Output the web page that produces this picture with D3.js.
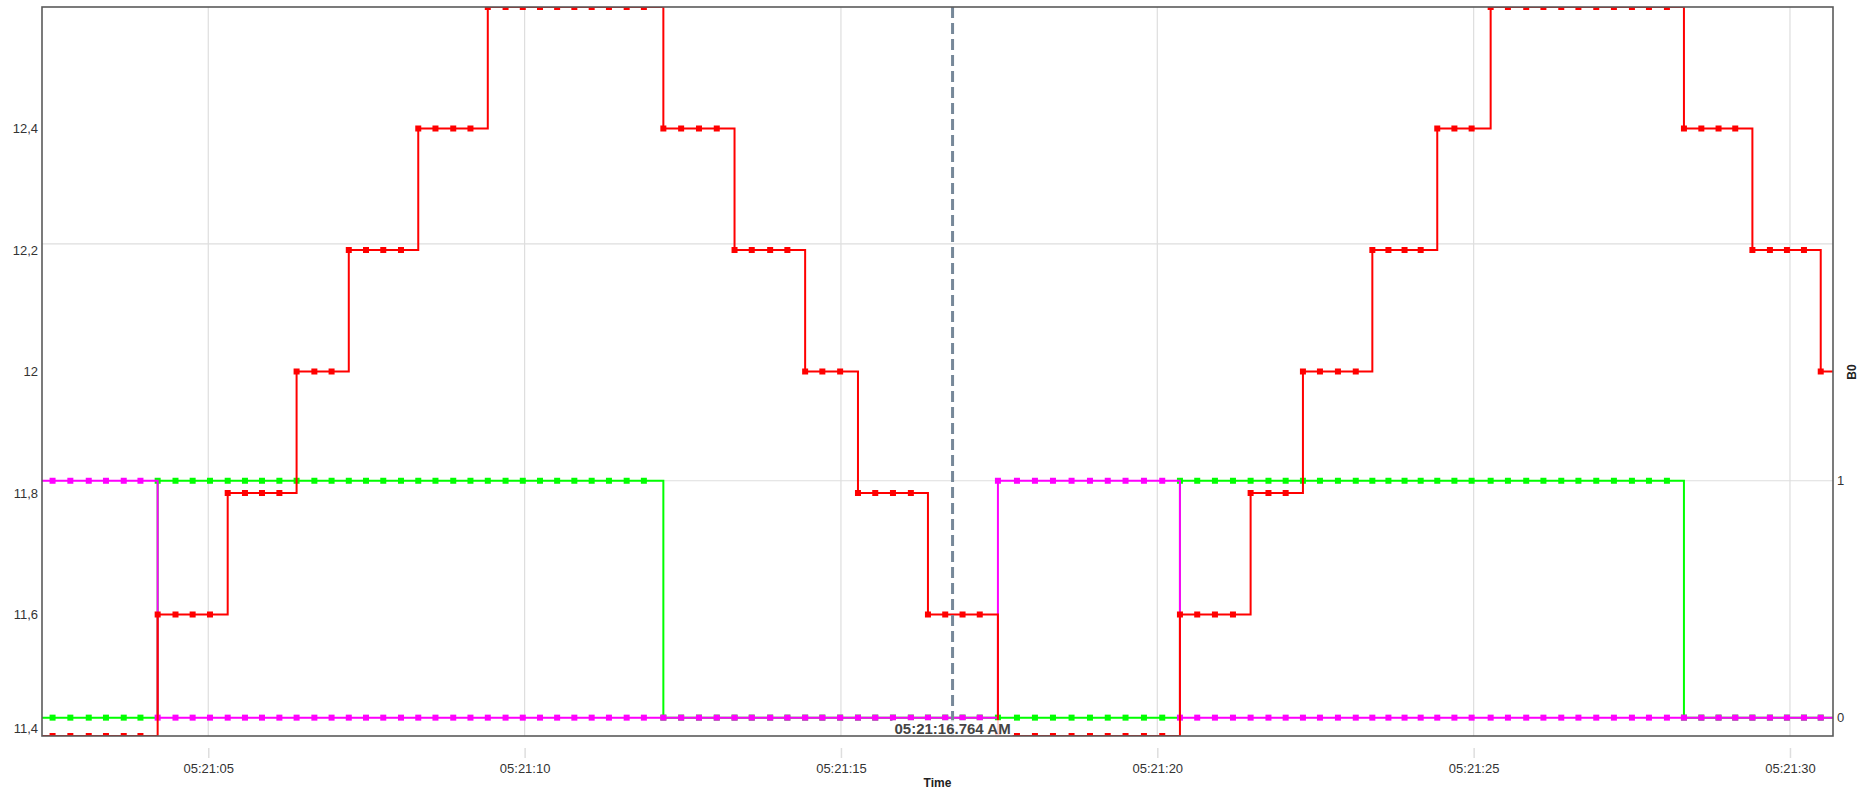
<!DOCTYPE html>
<html>
<head>
<meta charset="UTF-8">
<title>B0</title>
<script src="https://cdn.jsdelivr.net/npm/d3@7"></script>
<style>
body { margin: 0; background: #fff; }
text { font-family: "Liberation Sans", Arial, sans-serif; }
</style>
</head>
<body>
<script>
// sample times, seconds after 05:21:00
var times = [2.26, 2.539, 2.820, 3.111, 3.383, 3.664, 3.928, 4.200, 4.482, 4.753,
    5.027, 5.307, 5.580, 5.849, 6.124, 6.396, 6.677, 6.949, 7.221, 7.493,
    7.766, 8.046, 8.319, 8.591, 8.872, 9.144, 9.418, 9.699, 9.971, 10.243,
    10.514, 10.786, 11.060, 11.333, 11.613, 11.885, 12.193, 12.474, 12.756, 13.037,
    13.318, 13.590, 13.881, 14.153, 14.434, 14.706, 14.987, 15.269, 15.542, 15.822,
    16.105, 16.375, 16.648, 16.922, 17.194, 17.481, 17.782, 18.066, 18.351, 18.645,
    18.936, 19.217, 19.498, 19.789, 20.078, 20.358, 20.631, 20.911, 21.196, 21.475,
    21.757, 22.029, 22.302, 22.571, 22.855, 23.137, 23.399, 23.653, 23.908, 24.163,
    24.425, 24.696, 24.968, 25.269, 25.542, 25.831, 26.103, 26.385, 26.656, 26.938,
    27.217, 27.502, 27.771, 28.055, 28.324, 28.599, 28.871, 29.135, 29.406, 29.683,
    29.952, 30.221, 30.486, 30.76];

var red_values = [11.4, 11.4, 11.4, 11.4, 11.4, 11.4, 11.4, 11.6, 11.6, 11.6,
    11.6, 11.8, 11.8, 11.8, 11.8, 12, 12, 12, 12.2, 12.2,
    12.2, 12.2, 12.4, 12.4, 12.4, 12.4, 12.6, 12.6, 12.6, 12.6,
    12.6, 12.6, 12.6, 12.6, 12.6, 12.6, 12.4, 12.4, 12.4, 12.4,
    12.2, 12.2, 12.2, 12.2, 12, 12, 12, 11.8, 11.8, 11.8,
    11.8, 11.6, 11.6, 11.6, 11.6, 11.4, 11.4, 11.4, 11.4, 11.4,
    11.4, 11.4, 11.4, 11.4, 11.4, 11.6, 11.6, 11.6, 11.6, 11.8,
    11.8, 11.8, 12, 12, 12, 12, 12.2, 12.2, 12.2, 12.2,
    12.4, 12.4, 12.4, 12.6, 12.6, 12.6, 12.6, 12.6, 12.6, 12.6,
    12.6, 12.6, 12.6, 12.6, 12.4, 12.4, 12.4, 12.4, 12.2, 12.2,
    12.2, 12.2, 12, 12];

var green_values = [0, 0, 0, 0, 0, 0, 0, 1, 1, 1,
    1, 1, 1, 1, 1, 1, 1, 1, 1, 1,
    1, 1, 1, 1, 1, 1, 1, 1, 1, 1,
    1, 1, 1, 1, 1, 1, 0, 0, 0, 0,
    0, 0, 0, 0, 0, 0, 0, 0, 0, 0,
    0, 0, 0, 0, 0, 0, 0, 0, 0, 0,
    0, 0, 0, 0, 0, 1, 1, 1, 1, 1,
    1, 1, 1, 1, 1, 1, 1, 1, 1, 1,
    1, 1, 1, 1, 1, 1, 1, 1, 1, 1,
    1, 1, 1, 1, 0, 0, 0, 0, 0, 0,
    0, 0, 0, 0];

var magenta_values = [1, 1, 1, 1, 1, 1, 1, 0, 0, 0,
    0, 0, 0, 0, 0, 0, 0, 0, 0, 0,
    0, 0, 0, 0, 0, 0, 0, 0, 0, 0,
    0, 0, 0, 0, 0, 0, 0, 0, 0, 0,
    0, 0, 0, 0, 0, 0, 0, 0, 0, 0,
    0, 0, 0, 0, 0, 1, 1, 1, 1, 1,
    1, 1, 1, 1, 1, 0, 0, 0, 0, 0,
    0, 0, 0, 0, 0, 0, 0, 0, 0, 0,
    0, 0, 0, 0, 0, 0, 0, 0, 0, 0,
    0, 0, 0, 0, 0, 0, 0, 0, 0, 0,
    0, 0, 0, 0];

var left_ticks = [11.4, 11.6, 11.8, 12, 12.2, 12.4];
var right_ticks = [0, 1];
var right_grid = [0, 1, 2];
var cursor_time = 16.764;
var cursor_label = "05:21:16.764 AM";
var x_title = "Time", right_title = "B0";

var Width = 1874, Height = 800;
var margin = {top: 7, right: 41, bottom: 64, left: 42};
var w = Width - margin.left - margin.right;
var h = Height - margin.top - margin.bottom;

var base = new Date(2000, 0, 1, 5, 21, 0);
var toDate = function(s){ return new Date(base.getTime() + s * 1000); };

var x = d3.scaleTime().domain([toDate(2.372), toDate(30.68)]).range([0, w]);
var yLeft = d3.scaleLinear().domain([11.4, 12.6]).range([h, 0]);
var yRight = d3.scaleLinear().domain([-0.0775, 3.0]).range([h, 0]);

var svg = d3.select("body")
            .append("svg")
            .attr("width", Width)
            .attr("height", Height);
var g = svg.append("g").attr("transform", "translate(" + margin.left + "," + margin.top + ")");

g.append("clipPath").attr("id", "plot-clip")
    .append("rect").attr("width", w).attr("height", h);

// grid
var xticks = x.ticks(d3.timeSecond.every(5));
g.selectAll(".vgrid").data(xticks).enter().append("line")
    .attr("x1", function(d){ return x(d); }).attr("x2", function(d){ return x(d); })
    .attr("y1", 0).attr("y2", h)
    .attr("stroke", "#dedede").attr("stroke-width", 1.2);
g.selectAll(".hgrid").data(right_grid).enter().append("line")
    .attr("x1", 0).attr("x2", w)
    .attr("y1", function(d){ return yRight(d); }).attr("y2", function(d){ return yRight(d); })
    .attr("stroke", "#dedede").attr("stroke-width", 1.2);

// x axis (ticks sit below the frame with a gap)
var xAxis = g.append("g").attr("transform", "translate(0," + (h + 12) + ")")
    .call(d3.axisBottom(x).ticks(d3.timeSecond.every(5)).tickFormat(d3.timeFormat("%H:%M:%S"))
        .tickSize(10).tickPadding(6));
xAxis.select(".domain").remove();
xAxis.selectAll(".tick line").attr("stroke", "#dedede").attr("stroke-width", 1.5);
xAxis.selectAll(".tick text").attr("fill", "#333").style("font-size", "13px");

var leftAxis = g.append("g")
    .call(d3.axisLeft(yLeft).tickValues(left_ticks).tickSize(0).tickPadding(4)
        .tickFormat(function(d){ return d3.format("~g")(d).replace(".", ","); }));
leftAxis.select(".domain").remove();
leftAxis.selectAll(".tick text").attr("fill", "#333").style("font-size", "13px")
    .attr("y", function(d){ return yLeft(d) > h - 8 ? -8 : 0; });

var rightAxis = g.append("g").attr("transform", "translate(" + w + ",0)")
    .call(d3.axisRight(yRight).tickValues(right_ticks).tickSize(0).tickPadding(4)
        .tickFormat(d3.format("d")));
rightAxis.select(".domain").remove();
rightAxis.selectAll(".tick text").attr("fill", "#333").style("font-size", "13px");

// series
var plot = g.append("g").attr("clip-path", "url(#plot-clip)");

function draw_series(values, scale, color){
    var line = d3.line()
        .x(function(d, i){ return x(toDate(times[i])); })
        .y(function(d){ return scale(d); })
        .curve(d3.curveStepAfter);
    plot.append("path").datum(values)
        .attr("d", line)
        .attr("fill", "none")
        .attr("stroke", color)
        .attr("stroke-width", 2);
    plot.append("g").selectAll("rect").data(values).enter().append("rect")
        .attr("x", function(d, i){ return x(toDate(times[i])) - 3; })
        .attr("y", function(d){ return scale(d) - 3; })
        .attr("width", 6).attr("height", 6)
        .attr("fill", color);
}
draw_series(green_values, yRight, "#00ff00");
draw_series(magenta_values, yRight, "#ff00ff");
draw_series(red_values, yLeft, "#ff0000");

// cursor
var cx = x(toDate(cursor_time));
g.append("line")
    .attr("x1", cx).attr("x2", cx).attr("y1", 0).attr("y2", h)
    .attr("stroke", "#778899").attr("stroke-width", 3)
    .attr("stroke-dasharray", "11,5");
var lab = g.append("g");
var labBg = lab.append("rect");
var labText = lab.append("text")
    .attr("x", cx).attr("y", h - 7).attr("dy", "0.35em")
    .attr("text-anchor", "middle")
    .attr("fill", "#444").style("font-size", "15px").style("font-weight", "bold")
    .text(cursor_label);
var bb = labText.node().getBBox();
labBg.attr("x", bb.x - 2).attr("y", bb.y).attr("width", bb.width + 4).attr("height", bb.height)
    .attr("fill", "#fff").attr("fill-opacity", 0.85);

// frame
g.append("rect").attr("width", w).attr("height", h)
    .attr("fill", "none").attr("stroke", "#5a5a5a").attr("stroke-width", 1.6);

// titles
g.append("text").attr("x", w / 2).attr("y", h + 47).attr("dy", "0.35em")
    .attr("text-anchor", "middle").style("font-size", "12px").style("font-weight", "bold")
    .attr("fill", "#222").text(x_title);
g.append("text").attr("transform", "translate(" + (w + 19) + "," + 365 + ") rotate(-90)")
    .attr("dy", "0.35em").attr("text-anchor", "middle")
    .style("font-size", "12px").style("font-weight", "bold")
    .attr("fill", "#222").text(right_title);
</script>
</body>
</html>
